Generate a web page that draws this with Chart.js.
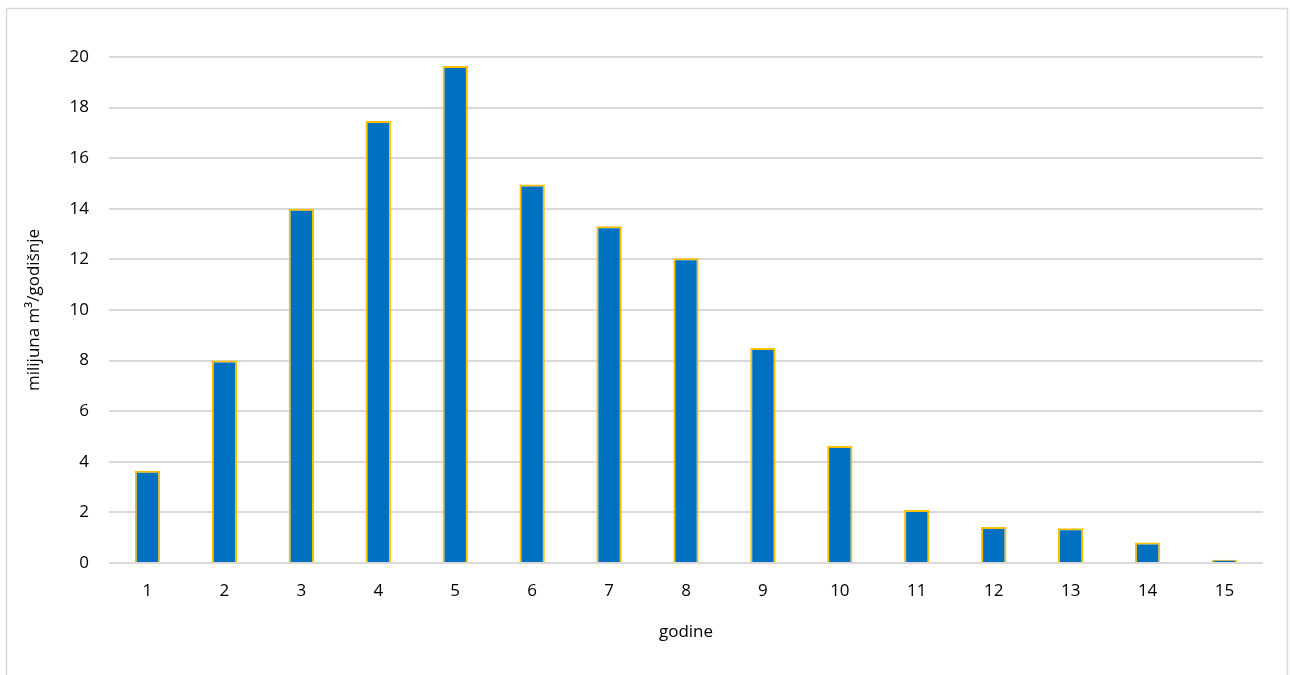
<!DOCTYPE html>
<html>
<head>
<meta charset="utf-8">
<script src="https://cdn.jsdelivr.net/npm/chart.js@4.4.1/dist/chart.umd.min.js"></script>
<style>
  html, body { margin: 0; padding: 0; background: #ffffff; }
  #wrap { position: relative; width: 1290px; height: 675px; }
</style>
</head>
<body>
<div id="wrap"><canvas id="c" width="1290" height="675"></canvas></div>
<script>
const categories = ['1','2','3','4','5','6','7','8','9','10','11','12','13','14','15'];
const values = [3.65, 8.0, 14.0, 17.47, 19.64, 14.96, 13.31, 12.05, 8.5, 4.62, 2.09, 1.42, 1.37, 0.81, 0.13];
const yTitle = 'milijuna m³/godišnje';
const xTitle = 'godine';
const FONT = 'Open Sans';

const framePlugin = {
  id: 'frame',
  beforeDraw(chart) {
    const ctx = chart.ctx;
    ctx.save();
    ctx.fillStyle = '#ffffff';
    ctx.fillRect(0, 0, chart.width, chart.height);
    ctx.strokeStyle = '#d9d9d9';
    ctx.lineWidth = 1.5;
    ctx.strokeRect(6.5, 8.5, 1281, 700);
    ctx.restore();
  }
};

new Chart(document.getElementById('c'), {
  type: 'bar',
  data: {
    labels: categories,
    datasets: [{
      data: values,
      backgroundColor: '#0070c0',
      borderColor: '#ffc000',
      borderWidth: 2,
      barPercentage: 0.33,
      categoryPercentage: 1.0
    }]
  },
  options: {
    responsive: false,
    animation: false,
    devicePixelRatio: 1,
    layout: { padding: { top: 57, right: 27, bottom: 0, left: 0 } },
    plugins: { legend: { display: false }, tooltip: { enabled: false } },
    scales: {
      x: {
        grid: { display: false, drawTicks: false },
        border: { display: false },
        ticks: { color: '#000', font: { family: FONT, size: 17 }, padding: 18 },
        title: { display: true, text: xTitle, color: '#000', font: { family: FONT, size: 17 }, padding: { top: 0, bottom: 33 } },
        afterFit(scale) { scale.height = 112; }
      },
      y: {
        min: 0, max: 20,
        ticks: { stepSize: 2, color: '#000', font: { family: FONT, size: 17 }, padding: 20 },
        grid: { color: '#d9d9d9', lineWidth: 2, drawTicks: false },
        border: { display: false },
        title: { display: true, text: yTitle, color: '#000', font: { family: FONT, size: 17 }, padding: { top: 24, bottom: 0 } },
        afterFit(scale) { scale.width = 109; }
      }
    }
  },
  plugins: [framePlugin]
});
</script>
</body>
</html>
